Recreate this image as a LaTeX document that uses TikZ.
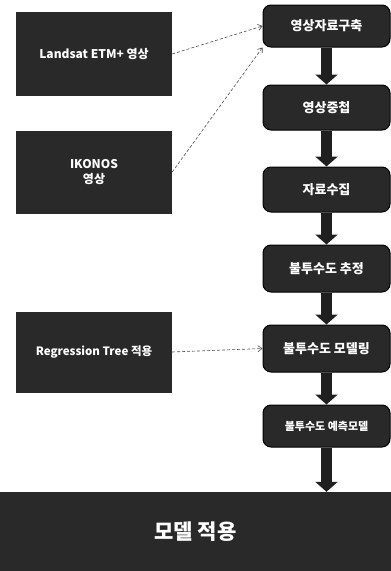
\documentclass[tikz,border=0pt]{standalone}
\usepackage{fontspec}
\setmainfont{Noto Sans CJK KR}
\usetikzlibrary{arrows.meta}

\tikzset{
  srcbox/.style = {fill=black!84, text=white, minimum width=156pt, inner sep=2pt, align=center, font=\fontsize{12}{15}\selectfont\bfseries},
  stepbox/.style = {draw=black, line width=1pt, fill=black!84, text=white, rounded corners=8pt, minimum width=127pt, inner sep=2pt, font=\fontsize{13}{15}\selectfont\bfseries},
  flow/.style = {line width=11pt, draw=black!88, -{Triangle[width=22pt,length=10pt]}},
  feed/.style = {draw=black!70, densely dashed, line width=0.6pt, -{Straight Barb[length=4pt,width=6pt]}}
}

\begin{document}
\begin{tikzpicture}[x=1pt, y=-1pt]
    \useasboundingbox (0,0) rectangle (391,571);
    % input data
    \node[srcbox, minimum height=84pt] (landsat) at (94,54) {Landsat ETM+ 영상};
    \node[srcbox, minimum height=83pt] (ikonos) at (94,172) {IKONOS\\영상};
    \node[srcbox, minimum height=81pt, font=\fontsize{11.5}{14}\selectfont\bfseries] (regtree) at (94,352) {Regression Tree 적용};
    % processing steps
    \node[stepbox, minimum height=42pt] (build) at (326.5,26) {영상자료구축};
    \node[stepbox, minimum height=45pt] (overlay) at (326.5,107.5) {영상중첩};
    \node[stepbox, minimum height=45pt] (collect) at (326.5,189.5) {자료수집};
    \node[stepbox, minimum height=47pt] (estim) at (326.5,268.5) {불투수도 추정};
    \node[stepbox, minimum height=47pt] (model) at (326.5,348.5) {불투수도 모델링};
    \node[stepbox, minimum height=42pt, font=\fontsize{11}{13}\selectfont\bfseries] (predict) at (326.5,426) {불투수도 예측모델};
    \node[fill=black!84, text=white, minimum width=391pt, minimum height=79pt, font=\fontsize{21}{24}\selectfont\bfseries] (apply) at (195.5,531.5) {모델 적용};
    % main flow
    \draw[flow] (build) -- (overlay);
    \draw[flow] (overlay) -- (collect);
    \draw[flow] (collect) -- (estim);
    \draw[flow] (estim) -- (model);
    \draw[flow] (model) -- (predict);
    \draw[flow] (predict.south) -- (apply.north -| predict.south);
    % side inputs
    \draw[feed] (landsat.east) -- (build.west);
    \draw[feed] (ikonos.east) -- (build.south west);
    \draw[feed] (regtree.east) -- (model.west);
\end{tikzpicture}
\end{document}
